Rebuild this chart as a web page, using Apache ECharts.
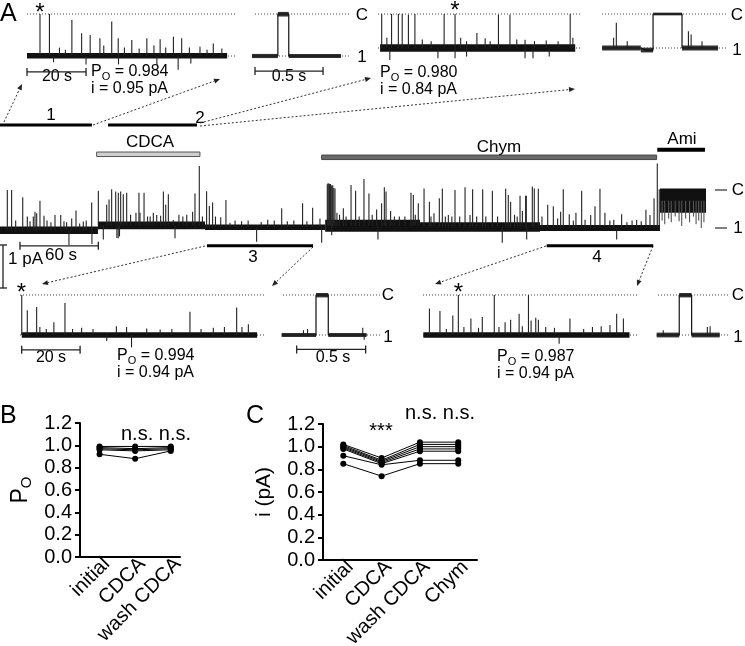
<!DOCTYPE html>
<html>
<head>
<meta charset="utf-8">
<script src="https://cdn.jsdelivr.net/npm/echarts@6/dist/echarts.min.js"></script>
<style>html,body{margin:0;padding:0;background:#fff;}#chart{width:745px;height:646px;}</style>
</head>
<body>
<div id="chart"></div>
<script>
// ================= DATA =================
// Panel A: time in s, amplitude in units of the single-channel step (0 = level "1", 1 = closed level "C")
// full recording
const longNoise = [
  [0, 75, -0.16, 0.04],
  [75, 157, -0.03, 0.17],
  [157, 249, -0.05, 0.09],
  [249, 321.6, -0.1, 0.22],
  [321.6, 413.5, -0.1, 0.15],
  [413.5, 505.4, -0.08, 0.08],
  [505.4, 540.6, 0.4, 1.04]
];
const longEvents = [
  [5.6,1.0],[8.9,1.0],[12,0.2],[17.4,0.81],[20.9,0.3],[23,0.18],[25.5,0.3],[26.8,0.43],[28.1,0.39],[30.6,0.72],[33.7,0.32],[36,0.2],[39,0.15],
  [42.1,0.34],[46.5,0.34],[49,0.18],[51,0.15],[54.9,0.25],[58.2,0.46],[61,0.12],[63.8,0.17],[66,0.2],[70.2,0.67],[75.3,0.98],[81.7,0.61],
  [83.5,0.75],[85.5,1.02],[88.6,0.96],[90.6,0.93],[92.4,0.96],[94.4,0.89],[97.0,0.93],[100,0.35],[104.1,0.4],[106.4,0.93],[107.2,0.4],
  [110.3,0.93],[113,0.3],[115,0.3],[117.4,0.4],[120.0,0.34],[123,0.32],[125.1,0.96],[126.9,0.61],[128.9,0.89],[132.7,0.21],[137,0.35],
  [140,0.3],[143,0.35],[147.5,0.43],[149.3,0.91],[152.6,1.63],[155,0.3],[158.2,0.97],[160.3,0.58],[162.8,0.67],[165,0.3],[169.0,0.28],
  [173.0,0.74],[176.1,0.14],[180,0.2],[185,0.18],[190,0.2],[200,0.16],[205,0.22],[210,0.2],[215.7,0.52],[220,0.18],[225,0.2],[231.7,0.65],
  [235,0.18],[239.4,0.53],[245,0.25],
  [250.6,1.15],[251.2,1.18],[251.8,1.17],[252.4,1.16],[253.0,1.16],[253.6,1.1],[254.2,1.13],[254.8,1.12],[255.6,1.05],[256.5,1.04],
  [258,0.4],[260,0.35],[262.9,0.52],[265,0.3],[268.8,1.13],[272.3,0.98],[275,0.3],[278.7,1.29],[282.5,0.91],[285,0.35],[288.4,0.49],
  [292.2,0.65],[294.3,1.07],[295.6,0.96],[299.1,0.45],[302,0.3],[305.8,0.3],[310,0.3],[314.7,0.93],[316.5,0.87],[318,0.35],[320.3,0.65],
  [324.7,1.04],[328.8,0.69],[330,0.3],[332.3,0.39],[336.4,0.78],[338.7,1.04],[341,0.3],[343.3,0.34],[346,0.3],[348.4,1.0],[352,0.3],
  [356.1,1.07],[359.9,0.34],[361.9,1.02],[365,0.3],[369.6,1.02],[372,0.3],[377,0.98],[381,0.3],[387.2,1.03],[389.2,0.87],[391,0.69],
  [394,0.35],[396,0.3],[398.2,0.85],[400,0.45],[402.5,0.85],[403,0.85],[407.6,1.09],[409.1,1.04],[412.2,1.03],[415,0.3],[419.4,0.61],
  [423.7,0.57],[427,0.25],[429.3,0.43],[431.3,1.02],[435.9,0.36],[439,0.2],[441,0.4],[445.4,0.98],[448,0.22],[452.3,0.34],[455.6,0.57],
  [459.4,1.03],[463.2,0.4],[467,0.2],[470,0.22],[476,0.36],[480,0.15],[484,0.2],[487.5,0.21],[491,0.18],[494.6,0.48],[497.7,0.34],
  [500.8,0.78],[503.3,1.7],[504.8,1.02],
  [52.8,-0.45],[70.4,-0.42],[79.1,-0.3],[89.5,-0.26],[90.5,-0.27],[91.5,-0.22],[134,-0.27],[196.5,-0.36],[246.3,-0.39],[254,-0.19],
  [289.4,-0.3],[384.6,-0.39],[403.3,-0.3],[472.2,-0.3]
];
const amilorideFlicker = [[507,0.2],[509,0.1],[512,0.25],[514,0.15],[517,0.3],[520,0.18],[522,0.05],[525,0.25],[528,0.15],[531,0.3],[533,0.1],[535,0.2],[537,0.0],[539,0.15]];
const segmentLabels = ['1','2','3','4'];
const segmentTimes = [[0,70.4],[82.7,150.8],[158.5,239.7],[418.6,500.2]];
const treatmentLabels = ['CDCA','Chym','Ami'];
const treatmentTimes = [[74,153.1],[246.3,502.8],[503.3,539.8]];

// expanded segment 1
const trace1Noise = [[0,67.8,-0.06,0.07]];
const trace1Events = [[4.4,1.0],[7.6,1.0],[11,0.2],[13,0.15],[15.2,0.86],[18.5,0.54],[21.4,0.5],[24.7,0.42],[26,0.25],[28.7,0.82],[30.9,0.42],[33,0.2],[35.5,0.38],[38,0.18],[40.6,0.42],[43,0.25],[45.1,0.4],[47,0.2],[49.6,0.46],[52.4,0.42],[55,0.2],[58.6,0.22],[61,0.15],[63.1,0.3],[66,0.18],[9,-0.15],[20,-0.2],[31,-0.2],[44,-0.22],[51.2,-0.33],[55.5,-0.18]];
const trace1Opening = [[0,0],[0.19,0],[0.19,1],[0.27,1],[0.27,0],[0.654,0]];
const trace1OpeningNoise = [[0,0.19,-0.05,0.05],[0.19,0.27,0.94,1.05],[0.27,0.654,-0.05,0.05]];
const trace1Stats = ['0.984','0.95 pA'];
// expanded segment 2
const trace2Noise = [[0.7,66.8,-0.11,0.11]];
const trace2Events = [[1.25,1],[3,0.3],[4.6,1],[6.9,1],[8.2,1],[10.3,0.98],[12.5,1],[15,0.25],[18,0.2],[22.4,1],[26.1,1],[28,0.3],[30,0.2],[33.5,0.44],[36.3,0.29],[38,0.2],[40.8,0.98],[44.7,0.98],[47,0.25],[49.8,0.24],[53,0.2],[57,0.22],[61,0.2],[65.1,1],[66,0.3],[4,-0.35],[20.3,-0.3],[26.1,-0.3],[30,-0.25],[49.8,-0.3],[52.5,-0.3],[58,-0.25]];
const trace2Opening = [[0.015,0],[0.3,0],[0.33,-0.06],[0.39,-0.06],[0.39,1],[0.603,1],[0.603,0],[0.868,0]];
const trace2OpeningNoise = [[0.015,0.3,-0.07,0.07],[0.3,0.39,-0.13,0.01],[0.39,0.603,0.96,1.04],[0.603,0.868,-0.07,0.07]];
const trace2OpeningEvents = [[0.1,0.3],[0.12,0.74],[0.2,0.2],[0.65,0.49],[0.67,0.4],[0.75,0.2]];
const trace2Stats = ['0.980','0.84 pA'];
// expanded segment 3
const trace3Noise = [[0.6,81.2,-0.07,0.07]];
const trace3Events = [[0.6,1.0],[2.5,0.62],[5.7,0.7],[6.8,0.2],[9,0.15],[11.6,0.32],[15.4,0.8],[18,0.15],[21.1,0.18],[25,0.15],[33,0.22],[36.5,0.2],[43.4,0.16],[48,0.14],[52,0.15],[58.2,0.58],[62,0.15],[66.2,0.18],[70,0.2],[74.2,0.69],[76,0.2],[78.2,0.27],[29.7,-0.15],[38.2,-0.31]];
const trace3Opening = [[0.012,0],[0.261,0],[0.261,1],[0.35,1],[0.35,0],[0.628,0]];
const trace3OpeningNoise = [[0.012,0.261,-0.05,0.05],[0.261,0.35,0.94,1.05],[0.35,0.628,-0.05,0.05]];
const trace3OpeningEvents = [[0.17,0.12],[0.2,0.15],[0.6,0.18],[0.61,-0.12]];
const trace3Stats = ['0.994','0.94 pA'];
// expanded segment 4
const trace4Noise = [[0.1,70.7,-0.07,0.07]];
const trace4Events = [[2.2,0.66],[5.8,0.6],[8,0.15],[10.2,0.49],[12.1,1.0],[14,0.2],[16.4,0.41],[19,0.18],[20.3,0.45],[24.4,1.0],[26,0.2],[28.1,0.32],[30.0,0.38],[32.9,0.53],[34,0.22],[36.1,1.0],[37.0,0.36],[38.6,0.43],[39.5,0.38],[42,0.2],[45,0.18],[50.3,0.41],[55,0.15],[58,0.2],[61,0.22],[64,0.25],[66.3,0.53],[68.6,0.41],[46.6,-0.22]];
const trace4Opening = [[0.012,0],[0.176,0],[0.176,1],[0.266,1],[0.266,0],[0.47,0]];
const trace4OpeningNoise = [[0.012,0.176,-0.06,0.06],[0.176,0.266,0.94,1.05],[0.266,0.47,-0.06,0.06]];
const trace4OpeningEvents = [[0.06,0.12],[0.38,0.2],[0.4,0.22]];
const trace4Stats = ['0.987','0.94 pA'];

// Panel B: open probability
const bCategories = ['initial','CDCA','wash CDCA'];
const bPo = [
  [0.99,0.99,0.99],
  [0.98,0.97,0.98],
  [0.97,0.96,0.97],
  [0.96,0.95,0.96],
  [0.92,0.88,0.95]
];
// Panel C: unitary current (pA)
const cCategories = ['initial','CDCA','wash CDCA','Chym'];
const cCurrent = [
  [1.02,0.90,1.04,1.04],
  [1.01,0.88,1.02,1.02],
  [1.00,0.87,1.00,1.00],
  [0.99,0.86,0.98,0.98],
  [0.98,0.85,0.96,0.96],
  [0.92,0.84,0.88,0.88],
  [0.85,0.74,0.85,0.85]
];
const yTickStep = 0.2;

// ================= LAYOUT / STYLE =================
const FONT = '"Liberation Sans", Arial, sans-serif';
const traceCfg = [
  {left:27,  width:209, xmax:70.8,  yC:14,  unit:42, ymin:-0.6, ymax:1.3}, // 0 segment 1
  {left:252, width:98,  xmax:0.72,  yC:14,  unit:42, ymin:-0.6, ymax:1.3}, // 1 opening 1
  {left:378, width:204, xmax:69.1,  yC:14,  unit:34, ymin:-0.6, ymax:1.3}, // 2 segment 2
  {left:600, width:128, xmax:0.941, yC:14,  unit:34, ymin:-0.6, ymax:1.3}, // 3 opening 2
  {left:0,   width:706, xmax:540.6, yC:190, unit:38, ymin:-0.6, ymax:1.9}, // 4 full record
  {left:20,  width:245, xmax:83.9,  yC:295, unit:40, ymin:-0.6, ymax:1.3}, // 5 segment 3
  {left:280, width:100, xmax:0.725, yC:295, unit:40, ymin:-0.6, ymax:1.3}, // 6 opening 3
  {left:423, width:215, xmax:73.6,  yC:295, unit:40, ymin:-0.6, ymax:1.3}, // 7 segment 4
  {left:655, width:73,  xmax:0.53,  yC:295, unit:40, ymin:-0.6, ymax:1.3}  // 8 opening 4
];
const grids = traceCfg.map(c => ({left:c.left, width:c.width, top:c.yC - (c.ymax - 1) * c.unit, height:(c.ymax - c.ymin) * c.unit, outerBoundsMode:'none', containLabel:false}));
grids.push({left:80, top:423, width:100, height:134, outerBoundsMode:'none', containLabel:false}); // B
grids.push({left:323, top:424, width:154, height:136, outerBoundsMode:'none', containLabel:false}); // C

const xAxes = traceCfg.map((c, i) => ({gridIndex:i, type:'value', min:0, max:c.xmax, show:false}));
const yAxes = traceCfg.map((c, i) => ({gridIndex:i, type:'value', min:c.ymin, max:c.ymax, show:false}));

const axisLineStyle = {color:'#000', width:2};
function catAxis(gi, cats, min, max, shift) {
  return {gridIndex:gi, type:'value', min:min, max:max,
    axisLine:{show:true, onZero:false, lineStyle:axisLineStyle},
    axisTick:{show:false}, splitLine:{show:false},
    axisLabel:{customValues:cats.map((c, i) => i + shift), formatter:v => cats[Math.round(v - shift)],
      rotate:45, margin:4, fontSize:20, color:'#000', fontFamily:FONT, hideOverlap:false, showMinLabel:true, showMaxLabel:true}};
}
function valAxis(gi, name, rich, gap) {
  return {gridIndex:gi, type:'value', min:0, max:1.2, interval:yTickStep,
    axisLine:{show:true, onZero:false, lineStyle:axisLineStyle},
    axisTick:{show:true, length:5, lineStyle:{color:'#000', width:2}},
    splitLine:{show:false},
    axisLabel:{formatter:v => v.toFixed(1), fontSize:20, color:'#000', fontFamily:FONT, margin:8},
    name:name, nameLocation:'middle', nameRotate:90, nameGap:gap,
    nameTextStyle:{color:'#000', fontFamily:FONT, fontSize:21, rich:rich}};
}
xAxes.push(catAxis(9, bCategories, -0.55, 2.26, 0.2));
xAxes.push(catAxis(10, cCategories, -0.53, 3.49, 0.18));
yAxes.push(valAxis(9, '{p|P}{s|O}', {p:{fontSize:23, lineHeight:26, fontFamily:FONT, color:'#000', verticalAlign:'middle'}, s:{fontSize:15, lineHeight:15, fontFamily:FONT, color:'#000', verticalAlign:'bottom'}}, 46));
yAxes.push(valAxis(10, 'i (pA)', null, 48));

// ================= SERIES =================
const series = [];
function common(gi) { return {xAxisIndex:gi, yAxisIndex:gi, silent:true, animation:false}; }
function dotted(gi, t0, t1, lev) {
  series.push(Object.assign(common(gi), {type:'line', data:[[t0, lev], [t1, lev]], symbol:'none', clip:false, z:1,
    lineStyle:{color:'#444', width:1, type:[1, 2]}}));
}
function noise(gi, arr, color) {
  series.push(Object.assign(common(gi), {type:'custom', data:arr, z:2, clip:false,
    renderItem:(p, api) => {
      const a = api.coord([api.value(0), api.value(3)]);
      const b = api.coord([api.value(1), api.value(2)]);
      return {type:'rect', shape:{x:a[0], y:a[1], width:b[0] - a[0], height:b[1] - a[1]}, style:{fill:color}};
    }}));
}
function baseAt(bands, t) {
  for (const b of bands) if (t >= b[0] && t <= b[1]) return (b[2] + b[3]) / 2;
  return 0;
}
function events(gi, arr, bands, color) {
  const data = arr.map(s => [s[0], baseAt(bands, s[0]), s[1]]);
  series.push(Object.assign(common(gi), {type:'custom', data:data, z:3, clip:false,
    renderItem:(p, api) => {
      const a = api.coord([api.value(0), api.value(1)]);
      const b = api.coord([api.value(0), api.value(2)]);
      return {type:'line', shape:{x1:a[0], y1:a[1], x2:b[0], y2:b[1]}, style:{stroke:color, lineWidth:1.1}};
    }}));
}
function opening(gi, arr) {
  series.push(Object.assign(common(gi), {type:'line', data:arr, symbol:'none', clip:false, z:4,
    lineStyle:{color:'#111', width:1.2}}));
}
function scaleBar(gi, t0, t1, lev) {
  series.push(Object.assign(common(gi), {type:'custom', data:[[t0, t1, lev]], z:5, clip:false,
    renderItem:(p, api) => {
      const a = api.coord([api.value(0), api.value(2)]);
      const b = api.coord([api.value(1), api.value(2)]);
      const st = {stroke:'#222', lineWidth:1.3};
      return {type:'group', children:[
        {type:'line', shape:{x1:a[0], y1:a[1], x2:b[0], y2:b[1]}, style:st},
        {type:'line', shape:{x1:a[0], y1:a[1] - 4, x2:a[0], y2:a[1] + 4}, style:st},
        {type:'line', shape:{x1:b[0], y1:b[1] - 4, x2:b[0], y2:b[1] + 4}, style:st}]};
    }}));
}
function vScaleBar(gi, t, l0, l1) {
  series.push(Object.assign(common(gi), {type:'custom', data:[[t, l0, l1]], z:5, clip:false,
    renderItem:(p, api) => {
      const a = api.coord([api.value(0), api.value(1)]);
      const b = api.coord([api.value(0), api.value(2)]);
      const st = {stroke:'#222', lineWidth:1.3};
      return {type:'group', children:[
        {type:'line', shape:{x1:a[0], y1:a[1], x2:b[0], y2:b[1]}, style:st},
        {type:'line', shape:{x1:a[0] - 4, y1:a[1], x2:a[0] + 4, y2:a[1]}, style:st},
        {type:'line', shape:{x1:b[0] - 4, y1:b[1], x2:b[0] + 4, y2:b[1]}, style:st}]};
    }}));
}
function bar(gi, t0, t1, lev, px, fill, stroke) {
  series.push(Object.assign(common(gi), {type:'custom', data:[[t0, t1, lev]], z:5, clip:false,
    renderItem:(p, api) => {
      const a = api.coord([api.value(0), api.value(2)]);
      const b = api.coord([api.value(1), api.value(2)]);
      return {type:'rect', shape:{x:a[0], y:a[1] - px / 2, width:b[0] - a[0], height:px},
        style:{fill:fill, stroke:stroke || null, lineWidth:stroke ? 1 : 0}};
    }}));
}

// segment 1
dotted(0, 0, 70.8, 1); dotted(0, 0, 70.8, 0);
noise(0, trace1Noise, '#111'); events(0, trace1Events, trace1Noise, '#222');
scaleBar(0, 0, 20, -0.38);
dotted(1, 0.022, 0.72, 1); dotted(1, 0.022, 0.72, 0);
noise(1, trace1OpeningNoise, '#333'); opening(1, trace1Opening);
scaleBar(1, 0.022, 0.522, -0.36);
// segment 2
dotted(2, 0, 69.1, 1); dotted(2, 0, 69.1, 0);
noise(2, trace2Noise, '#111'); events(2, trace2Events, trace2Noise, '#222');
dotted(3, 0.015, 0.94, 1); dotted(3, 0.015, 0.94, 0);
noise(3, trace2OpeningNoise, '#333'); opening(3, trace2Opening); events(3, trace2OpeningEvents, trace2OpeningNoise, '#222');
// full record
noise(4, longNoise, '#111'); events(4, longEvents, longNoise, '#222'); events(4, amilorideFlicker, longNoise, '#555');
scaleBar(4, 15.3, 75.3, -0.47);
vScaleBar(4, 2.3, -0.447, -1.579);
const segLevels = [2.71, 2.71, -0.47, -0.47];
segmentTimes.forEach((s, i) => bar(4, s[0], s[1], segLevels[i], 3, '#000'));
const treatStyle = [{lev:1.94, px:4.5, fill:'#cfcfcf', stroke:'#555'}, {lev:1.86, px:4.5, fill:'#6a6a6a', stroke:'#444'}, {lev:2.06, px:4, fill:'#000'}];
treatmentTimes.forEach((s, i) => bar(4, s[0], s[1], treatStyle[i].lev, treatStyle[i].px, treatStyle[i].fill, treatStyle[i].stroke));
// segment 3
dotted(5, 0, 83.9, 1); dotted(5, 0, 83.9, 0);
noise(5, trace3Noise, '#111'); events(5, trace3Events, trace3Noise, '#222');
scaleBar(5, 0.58, 20.58, -0.37);
dotted(6, 0.022, 0.725, 1); dotted(6, 0.022, 0.725, 0);
noise(6, trace3OpeningNoise, '#333'); opening(6, trace3Opening); events(6, trace3OpeningEvents, trace3OpeningNoise, '#222');
scaleBar(6, 0.121, 0.621, -0.36);
// segment 4
dotted(7, 0, 73.6, 1); dotted(7, 0, 73.6, 0);
noise(7, trace4Noise, '#111'); events(7, trace4Events, trace4Noise, '#222');
dotted(8, 0.022, 0.53, 1); dotted(8, 0.022, 0.53, 0);
noise(8, trace4OpeningNoise, '#333'); opening(8, trace4Opening); events(8, trace4OpeningEvents, trace4OpeningNoise, '#222');

// panels B & C
function pointSeries(gi, row) {
  series.push({type:'line', xAxisIndex:gi, yAxisIndex:gi, animation:false, silent:true, z:6,
    data:row.map((v, i) => [i, v]), symbol:'circle', symbolSize:6,
    itemStyle:{color:'#000'}, lineStyle:{color:'#000', width:1}});
}
bPo.forEach(r => pointSeries(9, r));
cCurrent.forEach(r => pointSeries(10, r));

// ================= ANNOTATIONS =================
const g = [];
function txt(x, y, text, size, align, rich) {
  const st = {text:text, fontSize:size, fontFamily:FONT, fill:'#000', align:align || 'center', verticalAlign:'middle'};
  if (rich) st.rich = rich;
  g.push({type:'text', x:x, y:y, silent:true, style:st});
}
const subRich = {p:{fontSize:16, lineHeight:20, fontFamily:FONT, fill:'#000', verticalAlign:'middle'},
                 s:{fontSize:11, lineHeight:11, fontFamily:FONT, fill:'#000', verticalAlign:'bottom'}};
function stats(x, y, st) {
  txt(x, y, '{p|P}{s|O}{p| = ' + st[0] + '}', 16, 'left', subRich);
  txt(x, y + 17, 'i = ' + st[1], 16, 'left');
}
function arrow(x1, y1, x2, y2) {
  const ang = Math.atan2(y2 - y1, x2 - x1), L = 6, Wd = 2.5;
  const bx = x2 - L * Math.cos(ang), by = y2 - L * Math.sin(ang);
  const px = -Math.sin(ang) * Wd, py = Math.cos(ang) * Wd;
  g.push({type:'line', silent:true, shape:{x1:x1, y1:y1, x2:bx, y2:by}, style:{stroke:'#333', lineWidth:1, lineDash:[2, 2]}});
  g.push({type:'polygon', silent:true, shape:{points:[[x2, y2], [bx + px, by + py], [bx - px, by - py]]}, style:{fill:'#222'}});
}
txt(0, 14, 'A', 25, 'left');
txt(0, 416, 'B', 25, 'left');
txt(246, 416, 'C', 25, 'left');
txt(40, 13, '*', 24); txt(455, 11, '*', 24); txt(21.5, 293, '*', 24); txt(458.5, 293, '*', 24);
txt(57, 77, '20 s', 16); txt(289, 77, '0.5 s', 16);
stats(91, 72, trace1Stats); stats(380, 73, trace2Stats);
txt(362, 15, 'C', 17); txt(362, 57, '1', 17);
txt(737, 15, 'C', 17); txt(737, 50, '1', 17);
txt(51, 115, segmentLabels[0], 17); txt(200, 118, segmentLabels[1], 17);
txt(150, 142, treatmentLabels[0], 17); txt(499, 147, treatmentLabels[1], 17); txt(682, 139, treatmentLabels[2], 17);
g.push({type:'line', silent:true, shape:{x1:715, y1:190, x2:727, y2:190}, style:{stroke:'#000', lineWidth:1}});
g.push({type:'line', silent:true, shape:{x1:715, y1:228, x2:727, y2:228}, style:{stroke:'#000', lineWidth:1}});
txt(738, 190, 'C', 17); txt(738, 228, '1', 17);
txt(61, 255, '60 s', 17); txt(8, 259, '1 pA', 17, 'left');
txt(253, 257, segmentLabels[2], 17); txt(597, 257, segmentLabels[3], 17);
txt(51, 358, '20 s', 16); txt(333, 358, '0.5 s', 16);
stats(117, 356, trace3Stats); stats(497, 357, trace4Stats);
txt(388, 295, 'C', 17); txt(388, 337, '1', 17);
txt(738, 295, 'C', 17); txt(738, 337, '1', 17);
txt(156, 434, 'n.s. n.s.', 20);
txt(381, 431, '***', 20);
txt(440, 413, 'n.s. n.s.', 20);
arrow(4, 122, 22, 84);
arrow(93, 125, 220, 79);
arrow(200, 123, 371, 78);
arrow(200, 126, 575, 89);
arrow(205, 246, 42, 284);
arrow(313, 247, 272, 286);
arrow(546, 246, 435, 284);
arrow(653, 246, 637, 286);

const chart = echarts.init(document.getElementById('chart'), null, {renderer:'canvas'});
chart.setOption({
  animation:false,
  backgroundColor:'#fff',
  textStyle:{fontFamily:FONT},
  grid:grids, xAxis:xAxes, yAxis:yAxes, series:series, graphic:g
});
</script>
</body>
</html>
